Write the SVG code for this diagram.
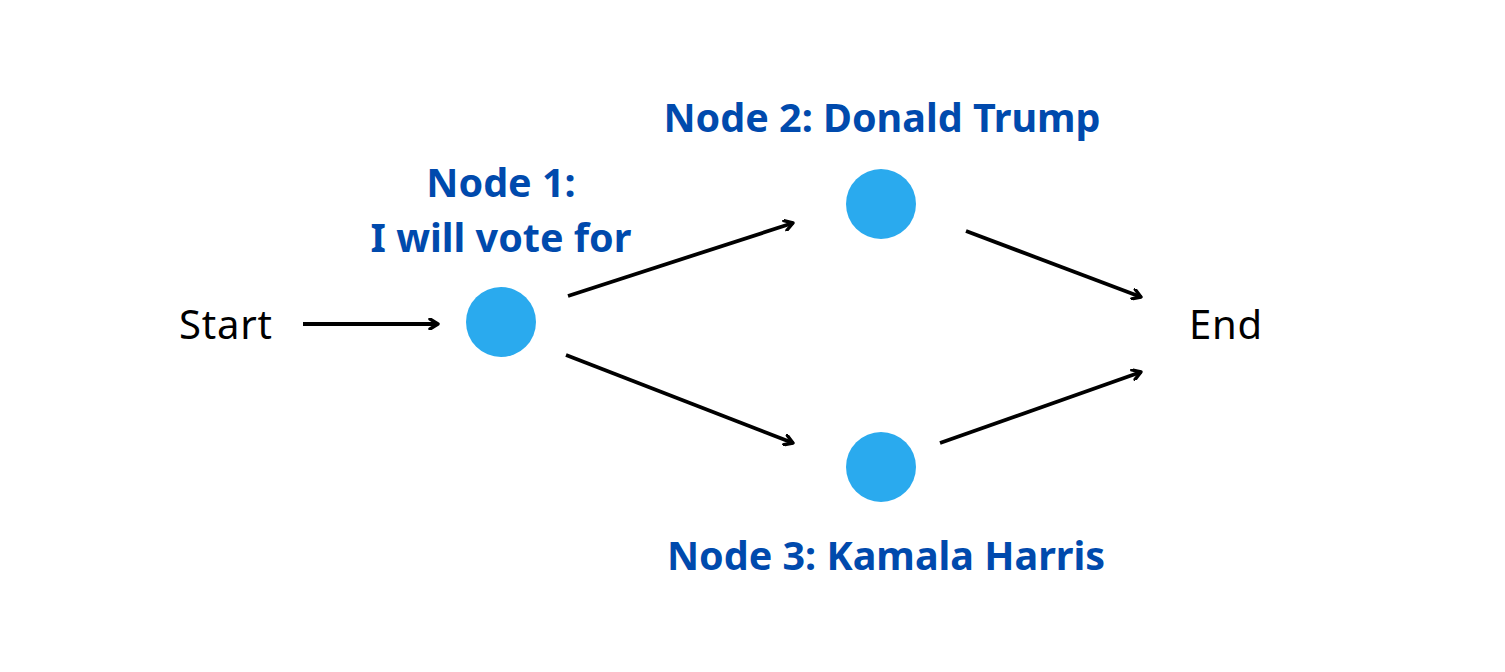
<svg xmlns="http://www.w3.org/2000/svg" width="1505" height="672" viewBox="0 0 1505 672">
<style>
.lbl{font-family:"Noto Sans","Open Sans",sans-serif;font-weight:bold;font-size:39.5px;fill:#004AAD;text-anchor:middle}
.term{font-family:"Noto Sans","Open Sans",sans-serif;font-size:40px;letter-spacing:0.8px;fill:#000}
.dot{fill:#2AAAEE}
.edge{stroke:#000;stroke-width:3.8;fill:none;marker-end:url(#ah)}
</style>
<defs>
<marker id="ah" viewBox="0 0 12 12" refX="10" refY="6" markerWidth="12" markerHeight="12" markerUnits="userSpaceOnUse" orient="auto">
<path d="M2,1 L10,6 L2,11" fill="none" stroke="#000" stroke-width="3.4" stroke-linecap="round" stroke-linejoin="round"/>
</marker>
</defs>
<rect width="1505" height="672" fill="#fff"/>
<g id="start"><text class="term" x="179" y="339">Start</text></g>
<g id="end"><text class="term" x="1189" y="339">End</text></g>
<g id="node1"><circle class="dot" cx="501" cy="322" r="35"/><text class="lbl" x="501" y="197">Node 1:</text><text class="lbl" x="501" y="252">I will vote for</text></g>
<g id="node2"><circle class="dot" cx="881" cy="204" r="35"/><text class="lbl" x="882" y="132">Node 2: Donald Trump</text></g>
<g id="node3"><circle class="dot" cx="881" cy="467" r="35"/><text class="lbl" x="886" y="570">Node 3: Kamala Harris</text></g>
<g id="connectors">
<path class="edge" d="M303,324 L438,324"/>
<path class="edge" d="M568,296 L793,223"/>
<path class="edge" d="M566,355 L793,443"/>
<path class="edge" d="M966,231 L1141,297"/>
<path class="edge" d="M940,443 L1141,372"/>
</g>
</svg>
